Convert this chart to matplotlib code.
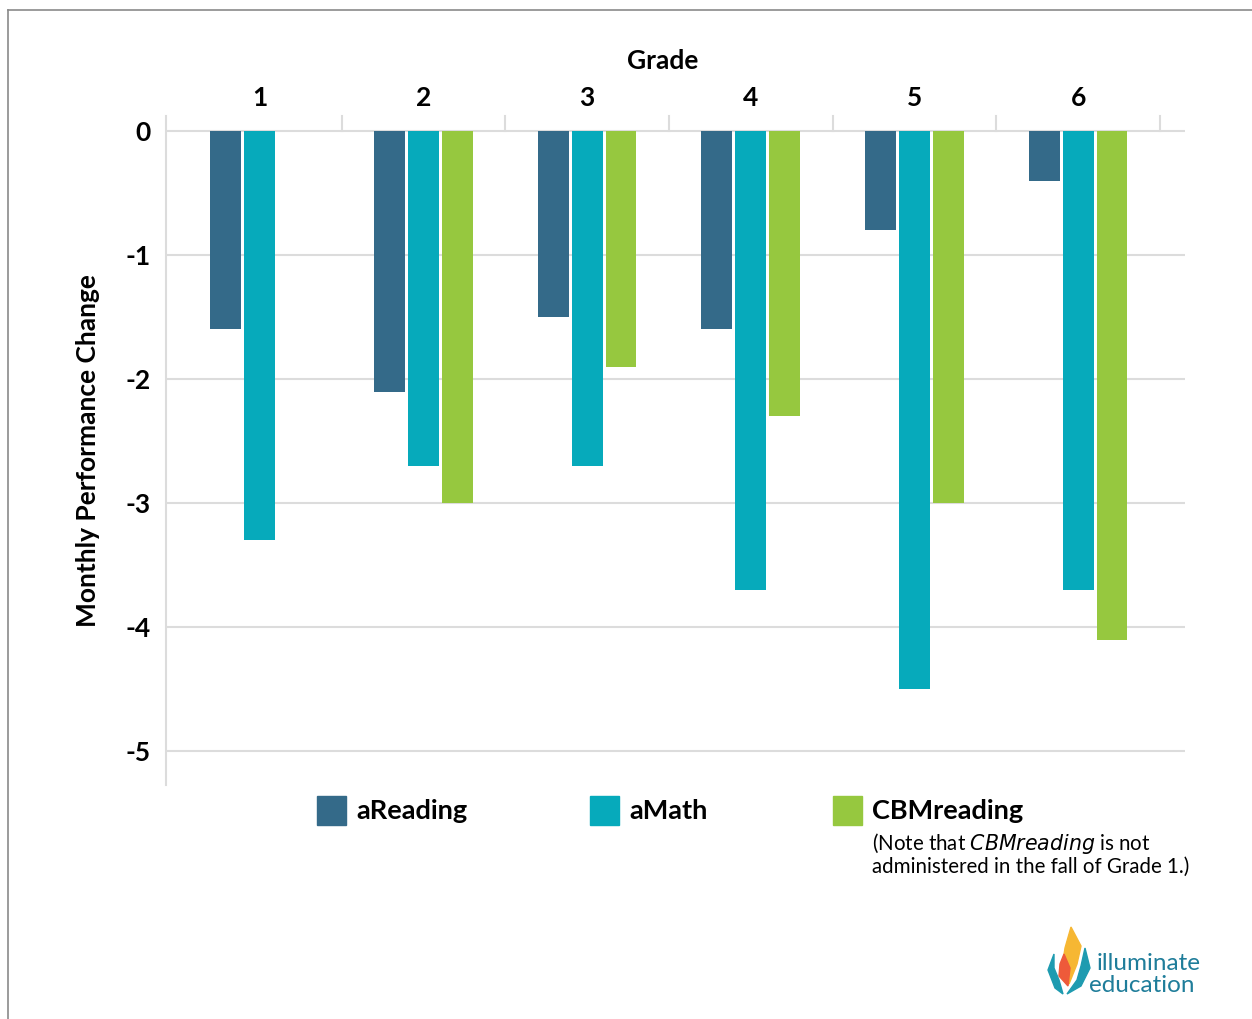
import numpy as np
import matplotlib
matplotlib.use("Agg")
import matplotlib.pyplot as plt
from matplotlib.patches import Rectangle, Polygon
from matplotlib.lines import Line2D

plt.rcParams['font.family'] = ['Lato', 'DejaVu Sans']

# data
grades = [1, 2, 3, 4, 5, 6]
areading = [-1.6, -2.1, -1.5, -1.6, -0.8, -0.4]
amath = [-3.3, -2.7, -2.7, -3.7, -4.5, -3.7]
cbmreading = [np.nan, -3.0, -1.9, -2.3, -3.0, -4.1]
series_names = ["aReading", "aMath", "CBMreading"]
colors = ["#346a89", "#06aabb", "#96c83f"]
yticks = [0, -1, -2, -3, -4, -5]

W, H = 1252, 1019
fig = plt.figure(figsize=(W / 100, H / 100), dpi=100)

# gray frame line (top and left)
fig.add_artist(Line2D([8 / W, 1], [1 - 10 / H, 1 - 10 / H], color="#8a8a8a", lw=1.2))
fig.add_artist(Line2D([8 / W, 8 / W], [0, 1 - 10 / H], color="#8a8a8a", lw=1.2))

ax = fig.add_axes([166 / W, 1 - 785 / H, (1185 - 166) / W, (785 - 116) / H])

x = np.arange(len(grades)) + 1
step = 0.207
bw = 0.189
for i, (vals, c) in enumerate(zip([areading, amath, cbmreading], colors)):
    ax.bar(x + (i - 1) * step, vals, width=bw, color=c, zorder=3)

ax.set_xlim(0.427, 6.653)
ax.set_ylim(-5.27, 0.12)
ax.set_yticks(yticks)
ax.set_yticklabels([str(v) for v in yticks], fontsize=19, fontweight="bold")
ax.tick_params(axis="y", length=0, pad=11)
ax.grid(axis="y", color="#dcdcdc", lw=1.5, zorder=0)
ax.set_xticks([])
for s in ["top", "right", "bottom"]:
    ax.spines[s].set_visible(False)
ax.spines["left"].set_color("#dcdcdc")
ax.spines["left"].set_linewidth(1.5)

# category dividers above the zero line
for d in np.arange(1.5, 7, 1.0):
    ax.plot([d, d], [0, 0.12], color="#dcdcdc", lw=1.5, clip_on=False, zorder=1)

for g, xi in zip(grades, x):
    ax.text(xi, 0.17, str(g), ha="center", va="bottom", fontsize=19, fontweight="bold")
ax.text(3.46, 0.47, "Grade", ha="center", va="bottom", fontsize=19, fontweight="bold")

ax.set_ylabel("Monthly Performance Change", fontsize=19, fontweight="bold", labelpad=18)

# legend drawn manually
leg_x = [317, 590, 833]
for name, c, lx in zip(series_names, colors, leg_x):
    fig.add_artist(Rectangle((lx / W, 1 - 825 / H), 29 / W, 29 / H, color=c,
                             transform=fig.transFigure))
    fig.text((lx + 39) / W, 1 - 811 / H, name, fontsize=19.5, fontweight="bold",
             va="center", ha="left")
fig.text(872 / W, 1 - 843 / H, "(Note that $\\it{CBMreading}$ is not", fontsize=14.8,
         va="center", ha="left")
fig.text(872 / W, 1 - 867 / H, "administered in the fall of Grade 1.)", fontsize=14.8,
         va="center", ha="left")

# logo
lax = fig.add_axes([1045 / W, 1 - 998 / H, 50 / W, 72 / H])
lax.set_xlim(0, 50)
lax.set_ylim(0, 72)
lax.axis("off")
lax.add_patch(Polygon([[26, 71], [36, 52], [32, 34], [24, 14], [17, 30], [20, 50]],
                      closed=True, color="#f6b733"))
lax.add_patch(Polygon([[19, 44], [25, 30], [23, 12], [14, 22], [15, 34]],
                      closed=True, color="#ee5a3a"))
lax.add_patch(Polygon([[9, 44], [3, 28], [10, 10], [18, 4], [14, 18], [9, 30]],
                      closed=True, color="#1e9bb0"))
lax.add_patch(Polygon([[40, 50], [45, 30], [36, 12], [22, 4], [32, 18], [36, 32]],
                      closed=True, color="#1e9bb0"))
fig.text(1097 / W, 1 - 963 / H, "illuminate", fontsize=17.5, color="#1f7d9a",
         va="center", ha="left")
fig.text(1089 / W, 1 - 986 / H, "education", fontsize=17.5, color="#1f7d9a",
         va="center", ha="left")

fig.savefig("out.png", dpi=100, facecolor="white")
